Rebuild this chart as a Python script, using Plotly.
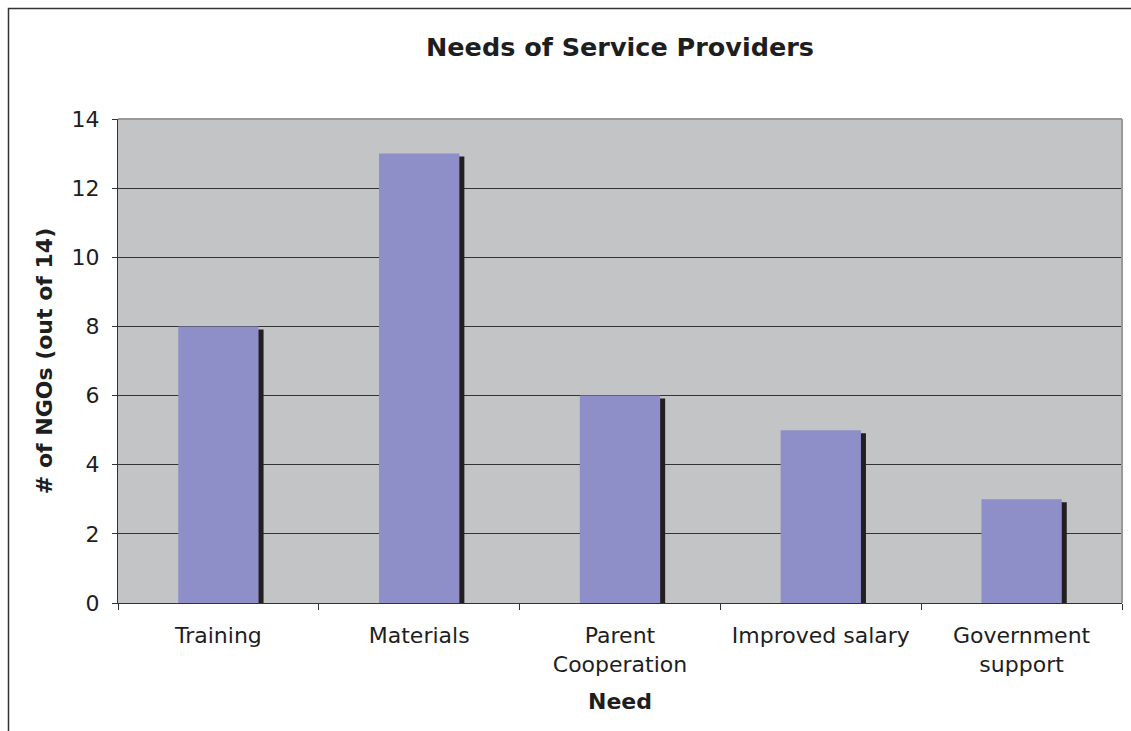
import plotly.graph_objects as go

categories = ["Training", "Materials", "Parent<br>Cooperation", "Improved salary", "Government<br>support"]
values = [8, 13, 6, 5, 3]
y_ticks = [0, 2, 4, 6, 8, 10, 12, 14]

# plot area geometry (px) used for decorative offsets
L, R, T, B = 118, 9, 119, 128
W, H = 1131, 731
pw = W - L - R
ph = H - T - B
ymax = 14
shadow_dy = 3 * ymax / ph          # 3px drop in data units
shadow_dx = 5 * len(categories) / pw  # 5px shift in category units

font = "DejaVu Sans, Verdana, sans-serif"
txt = "#1e1e1e"

fig = go.Figure()
fig.add_trace(go.Bar(
    x=categories, y=[v - shadow_dy for v in values],
    width=0.4, offset=-0.2 + shadow_dx,
    marker=dict(color="#231F20", line=dict(width=0)),
    hoverinfo="skip", showlegend=False,
))
fig.add_trace(go.Bar(
    x=categories, y=values,
    width=0.4, offset=-0.2,
    marker=dict(color="#8E8EC8", line=dict(width=0)),
    showlegend=False,
))

def px_x(p):
    return (p - L) / pw

def px_y(p):
    return (H - B - p) / ph

fig.update_layout(
    width=W, height=H,
    margin=dict(l=L, r=R, t=T, b=B),
    paper_bgcolor="white",
    plot_bgcolor="#C3C4C6",
    barmode="overlay",
    font=dict(family=font, size=22, color=txt),
    title=dict(text="<b>Needs of Service Providers</b>", x=0.5, xref="paper",
               xanchor="center", y=(H - 47) / H, yanchor="middle",
               font=dict(family=font, size=25.5, color=txt)),
    xaxis=dict(
        type="category",
        tickson="boundaries",
        ticks="outside", ticklen=6, tickcolor="#333", tickwidth=1,
        showline=True, linecolor="#333", linewidth=1,
        showgrid=False,
        ticklabelstandoff=13,
        tickfont=dict(family=font, size=22, color=txt),
        title=dict(text="<b>Need</b>", standoff=17,
                   font=dict(family=font, size=22, color=txt)),
    ),
    yaxis=dict(
        range=[0, ymax], tickvals=y_ticks,
        ticks="outside", ticklen=5, tickcolor="#333", tickwidth=1,
        showline=True, linecolor="#333", linewidth=1,
        showgrid=True, gridcolor="#333", gridwidth=1,
        zeroline=False,
        ticklabelstandoff=8,
        tickfont=dict(family=font, size=22, color=txt),
        title=dict(text="<b># of NGOs (out of 14)</b>", standoff=12,
                   font=dict(family=font, size=22, color=txt)),
    ),
    shapes=[
        dict(type="line", xref="paper", yref="paper", x0=0, x1=1, y0=1, y1=1,
             line=dict(color="#999999", width=2), layer="above"),
        dict(type="line", xref="paper", yref="paper", x0=1, x1=1, y0=0, y1=1,
             line=dict(color="#999999", width=2), layer="above"),
        dict(type="rect", xref="paper", yref="paper",
             x0=px_x(8.5), x1=px_x(1140), y0=px_y(740), y1=px_y(8.5),
             line=dict(color="#333333", width=1.5), layer="above"),
    ],
)

fig.write_html("out.html")
